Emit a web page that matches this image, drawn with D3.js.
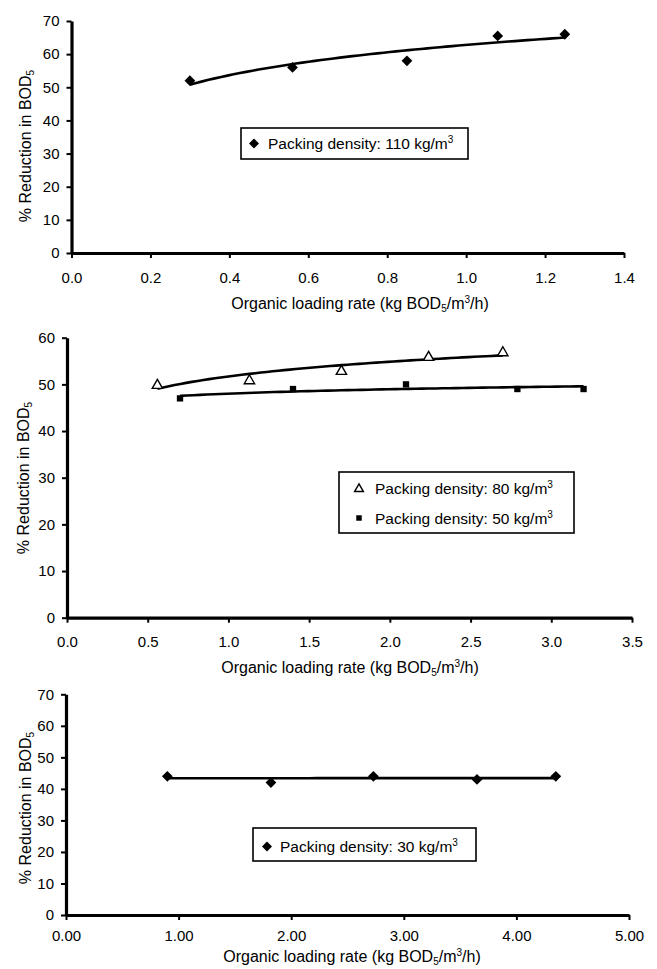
<!DOCTYPE html>
<html>
<head>
<meta charset="utf-8">
<script src="https://cdn.jsdelivr.net/npm/d3@7"></script>
<style>
  body { margin: 0; background: #fff; }
  svg { display: block; font-family: Arial, "Liberation Sans", sans-serif; }
</style>
</head>
<body>
<div class="main"></div>
<script>
// panel 1 - packing density 110 kg/m3
const olr110 = [0.30, 0.56, 0.85, 1.08, 1.25];
const red110 = [52, 56, 58, 65.5, 66];

// panel 2 - packing density 80 and 50 kg/m3
const olr80 = [0.56, 1.13, 1.70, 2.24, 2.70];
const red80 = [50, 51, 53, 56, 57];
const olr50 = [0.70, 1.40, 2.10, 2.79, 3.20];
const red50 = [47, 49, 50, 49, 49];

// panel 3 - packing density 30 kg/m3
const olr30 = [0.90, 1.82, 2.73, 3.65, 4.35];
const red30 = [44, 42, 44, 43, 44];

const xTicks1 = [0, 0.2, 0.4, 0.6, 0.8, 1.0, 1.2, 1.4];
const xTicks2 = [0, 0.5, 1.0, 1.5, 2.0, 2.5, 3.0, 3.5];
const xTicks3 = [0, 1, 2, 3, 4, 5];
const yTicks70 = [0, 10, 20, 30, 40, 50, 60, 70];
const yTicks60 = [0, 10, 20, 30, 40, 50, 60];

const legend110 = ["Packing density: 110 kg/m", "3"];
const legend80 = ["Packing density: 80 kg/m", "3"];
const legend50 = ["Packing density: 50 kg/m", "3"];
const legend30 = ["Packing density: 30 kg/m", "3"];

let width = 657;
let height = 969;

let svg = d3.select('.main')
    .append("svg")
    .attr("width", width)
    .attr("height", height);

// least squares fit of y = a + b ln(x), same as the spreadsheet trendline
function logFit(xs, ys) {
    let lx = xs.map(x => Math.log(x));
    let mx = d3.mean(lx);
    let my = d3.mean(ys);
    let sxy = d3.sum(lx, (v, i) => (v - mx) * (ys[i] - my));
    let sxx = d3.sum(lx, v => (v - mx) * (v - mx));
    let b = sxy / sxx;
    let a = my - b * mx;
    return x => a + b * Math.log(x);
}

function marker(g, type, x, y, big) {
    if (type === "diamond") {
        g.append("path")
            .attr("d", d3.symbol(d3.symbolSquare, big ? 58 : 50)())
            .attr("transform", `translate(${x},${y}) rotate(45)`)
            .attr("fill", "#000");
    } else if (type === "triangle") {
        g.append("path")
            .attr("d", d3.symbol(d3.symbolTriangle, big ? 46 : 34)())
            .attr("transform", `translate(${x},${y + 1})`)
            .attr("fill", "#fff")
            .attr("stroke", "#000")
            .attr("stroke-width", 1.4);
    } else {
        g.append("path")
            .attr("d", d3.symbol(d3.symbolSquare, big ? 40 : 30)())
            .attr("transform", `translate(${x},${y})`)
            .attr("fill", "#000");
    }
}

function drawPanel(p) {
    let g = svg.append("g");

    let x = d3.scaleLinear().domain(p.xDomain).range([p.left, p.right]);
    let y = d3.scaleLinear().domain(p.yDomain).range([p.bottom, p.top]);

    // axes
    let xAxis = g.append("g")
        .attr("transform", `translate(0,${p.bottom})`)
        .call(d3.axisBottom(x).tickValues(p.xTicks).tickFormat(d3.format(p.xFormat))
            .tickSize(5).tickSizeOuter(0).tickPadding(p.xPad));
    let yAxis = g.append("g")
        .attr("transform", `translate(${p.left},0)`)
        .call(d3.axisLeft(y).tickValues(p.yTicks).tickSize(5).tickSizeOuter(0).tickPadding(7));

    [xAxis, yAxis].forEach(ax => {
        ax.select(".domain").attr("stroke", "#000").attr("stroke-width", 3.2);
        ax.selectAll(".tick line").attr("stroke", "#000").attr("stroke-width", 2);
        ax.selectAll(".tick text")
            .attr("fill", "#000")
            .style("font-size", "15px")
            .style("font-family", 'Arial, "Liberation Sans", sans-serif');
    });

    // trend lines + points
    p.series.forEach(s => {
        let f = logFit(s.xs, s.ys);
        let lo = d3.min(s.xs), hi = d3.max(s.xs);
        let steps = d3.range(0, 61).map(i => lo + (hi - lo) * i / 60);
        g.append("path")
            .datum(steps)
            .attr("fill", "none")
            .attr("stroke", "#000")
            .attr("stroke-width", 2.6)
            .attr("d", d3.line().x(d => x(d)).y(d => y(f(d))));

        s.xs.forEach((v, i) => {
            marker(g, s.marker, x(v), y(s.ys[i]), true);
        });
    });

    // x label
    let xl = g.append("text")
        .attr("x", p.xLabelX)
        .attr("y", p.xLabelY)
        .attr("text-anchor", "middle")
        .style("font-size", "16px");
    xl.append("tspan").text("Organic loading rate (kg BOD");
    xl.append("tspan").attr("font-size", "10px").attr("dy", 3).text("5");
    xl.append("tspan").attr("dy", -3).text("/m");
    xl.append("tspan").attr("font-size", "10px").attr("dy", -6).text("3");
    xl.append("tspan").attr("dy", 6).text("/h)");

    // y label
    let yl = g.append("text")
        .attr("transform", `translate(${p.yLabelX},${p.yLabelY}) rotate(-90)`)
        .attr("text-anchor", "middle")
        .style("font-size", "16px");
    yl.append("tspan").text("% Reduction in BOD");
    yl.append("tspan").attr("font-size", "10px").attr("dy", 3).text("5");

    // legend box
    let lb = p.legend;
    g.append("rect")
        .attr("x", lb.x)
        .attr("y", lb.y)
        .attr("width", lb.w)
        .attr("height", lb.h)
        .attr("fill", "#fff")
        .attr("stroke", "#000")
        .attr("stroke-width", 1.6);

    p.series.forEach((s, i) => {
        let cy = lb.rows[i];
        marker(g, s.marker, lb.mx, cy, false);
        let t = g.append("text")
            .attr("x", lb.tx)
            .attr("y", cy + 5.5)
            .style("font-size", "15.5px");
        t.append("tspan").text(s.label[0]);
        t.append("tspan").attr("font-size", "10px").attr("dy", -6).text(s.label[1]);
    });
}

drawPanel({
    left: 71.5, right: 624, top: 21, bottom: 253,
    xDomain: [0, 1.4], yDomain: [0, 70],
    xTicks: xTicks1, yTicks: yTicks70, xFormat: ".1f", xPad: 14,
    xLabelX: 360, xLabelY: 309, yLabelX: 31, yLabelY: 146,
    series: [{ xs: olr110, ys: red110, marker: "diamond", label: legend110 }],
    legend: { x: 241, y: 128, w: 227, h: 31, mx: 254, tx: 268, rows: [143.5] }
});

drawPanel({
    left: 67, right: 632, top: 337.7, bottom: 617.7,
    xDomain: [0, 3.5], yDomain: [0, 60],
    xTicks: xTicks2, yTicks: yTicks60, xFormat: ".1f", xPad: 14,
    xLabelX: 350, xLabelY: 673, yLabelX: 29, yLabelY: 478,
    series: [
        { xs: olr80, ys: red80, marker: "triangle", label: legend80 },
        { xs: olr50, ys: red50, marker: "square", label: legend50 }
    ],
    legend: { x: 339, y: 472, w: 235, h: 61, mx: 359, tx: 375, rows: [488, 518] }
});

drawPanel({
    left: 66, right: 629, top: 694.3, bottom: 915,
    xDomain: [0, 5], yDomain: [0, 70],
    xTicks: xTicks3, yTicks: yTicks70, xFormat: ".2f", xPad: 10,
    xLabelX: 352, xLabelY: 962, yLabelX: 31, yLabelY: 808,
    series: [{ xs: olr30, ys: red30, marker: "diamond", label: legend30 }],
    legend: { x: 253, y: 828, w: 223, h: 33, mx: 267, tx: 280, rows: [846.5] }
});
</script>
</body>
</html>
